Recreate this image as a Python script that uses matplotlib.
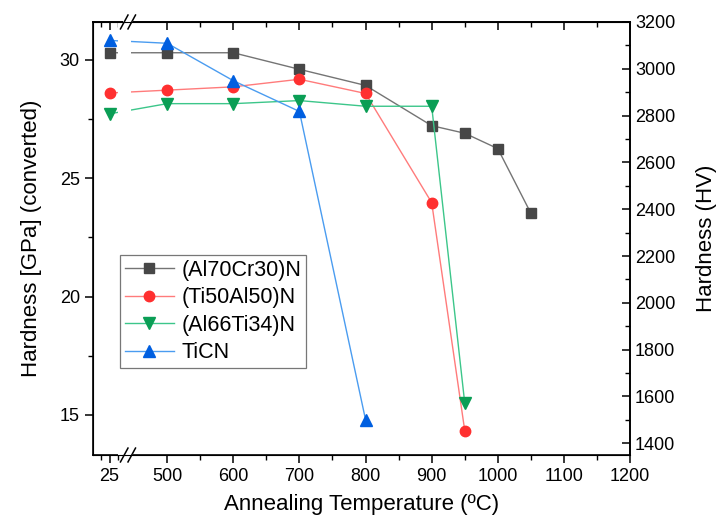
"""
Hardness vs annealing temperature for four coatings, broken x axis (25 / 500-1200 C).
"""

import matplotlib

matplotlib.use("Agg")
import matplotlib.pyplot as plt
import numpy as np
from matplotlib.ticker import MultipleLocator

plt.rcParams["font.family"] = ["Liberation Sans", "DejaVu Sans"]

# ---- data (hardness in GPa) ----
temp_alcr = [25, 500, 600, 700, 800, 900, 950, 1000, 1050]
hard_alcr = [30.3, 30.3, 30.3, 29.6, 28.92, 27.22, 26.9, 26.25, 23.52]

temp_tial = [25, 500, 600, 700, 800, 900, 950]
hard_tial = [28.6, 28.72, 28.86, 29.18, 28.58, 23.97, 14.34]

temp_alti = [25, 500, 600, 700, 800, 900, 950]
hard_alti = [27.72, 28.15, 28.15, 28.28, 28.04, 28.04, 15.5]

temp_ticn = [25, 500, 600, 700, 800]
hard_ticn = [30.82, 30.7, 29.12, 27.82, 14.8]

series_labels = ["(Al70Cr30)N", "(Ti50Al50)N", "(Al66Ti34)N", "TiCN"]
x_tick_values = [25, 500, 600, 700, 800, 900, 1000, 1100, 1200]

# left segment (0..~45 C) is shifted so that it sits just before the break
SHIFT = 388.0


def to_axis(t):
    t = np.asarray(t, dtype=float)
    return np.where(t < 300, t + SHIFT, t)


fig = plt.figure(figsize=(7.16, 5.23), dpi=100)
ax = fig.add_axes([0.130, 0.130, 0.750, 0.828])

styles = [
    dict(marker="s", mfc="#474747", mec="#474747", color="#747474", ms=7),
    dict(marker="o", mfc="#ff3030", mec="#ff3030", color="#ff7b7b", ms=7.5),
    dict(marker="v", mfc="#0a9e55", mec="#0a9e55", color="#3cc68a", ms=8),
    dict(marker="^", mfc="#005fe0", mec="#005fe0", color="#4a9cf0", ms=8),
]
all_series = [
    (temp_alcr, hard_alcr),
    (temp_tial, hard_tial),
    (temp_alti, hard_alti),
    (temp_ticn, hard_ticn),
]
for (tx, hy), lab, st in zip(all_series, series_labels, styles):
    ax.plot(to_axis(tx), hy, lw=1.0, label=lab, zorder=3, **st)

# gap in the connecting lines at the axis break
ax.axvspan(425, 445, color="white", zorder=3.5, lw=0)

ax.set_xlim(SHIFT, 1200)
ax.set_ylim(13.31, 31.6)

ax.set_xticks(to_axis(x_tick_values))
ax.set_xticklabels([str(v) for v in x_tick_values])
ax.set_xticks(list(to_axis([12.5, 37.5])) + list(range(550, 1200, 100)), minor=True)
ax.yaxis.set_major_locator(MultipleLocator(5))
ax.yaxis.set_minor_locator(MultipleLocator(2.5))

ax.tick_params(axis="x", which="both", direction="out", top=False, labelsize=13)
ax.tick_params(axis="x", which="major", length=6, width=1.1)
ax.tick_params(axis="x", which="minor", length=3.5, width=1.0)
ax.tick_params(axis="y", which="both", direction="out", right=False, labelsize=13)
ax.tick_params(axis="y", which="major", length=6, width=1.1)
ax.tick_params(axis="y", which="minor", length=3.5, width=1.0)

# top ticks pointing inward
top = ax.secondary_xaxis("top")
top.set_xticks(to_axis(x_tick_values))
top.set_xticks(list(to_axis([12.5, 37.5])) + list(range(550, 1200, 100)), minor=True)
top.tick_params(which="both", direction="in", labeltop=False)
top.tick_params(which="major", length=6, width=1.1)
top.tick_params(which="minor", length=3.5, width=1.0)
top.spines["top"].set_linewidth(1.2)

for s in ax.spines.values():
    s.set_linewidth(1.2)

# right axis in HV
ax2 = ax.twinx()
ax2.set_ylim(1350, 3200)
ax2.yaxis.set_major_locator(MultipleLocator(200))
ax2.yaxis.set_minor_locator(MultipleLocator(100))
ax2.tick_params(axis="y", which="both", direction="in", labelsize=13)
ax2.tick_params(axis="y", which="major", length=6, width=1.1)
ax2.tick_params(axis="y", which="minor", length=3.5, width=1.0)
ax2.spines["right"].set_linewidth(1.2)
ax2.set_ylabel("Hardness (HV)", fontsize=16, labelpad=15)

ax.set_xlabel("Annealing Temperature (ºC)", fontsize=16, labelpad=6)
ax.set_ylabel("Hardness [GPa] (converted)", fontsize=16, labelpad=13)

# break marks on bottom and top spines
for yb in (0.0, 1.0):
    ax.add_patch(plt.Rectangle((0.055, yb - 0.012), 0.02, 0.024,
                               transform=ax.transAxes, color="white",
                               zorder=5, clip_on=False, lw=0))
    for xb in (0.058, 0.072):
        ax.plot([xb - 0.007, xb + 0.007], [yb - 0.016, yb + 0.016],
                transform=ax.transAxes, color="black", lw=1.1,
                clip_on=False, zorder=6)

leg = ax.legend(loc="upper left", bbox_to_anchor=(0.05, 0.462), fontsize=15.5,
                frameon=True, fancybox=False, edgecolor="#555555",
                handlelength=2.3, borderpad=0.22, labelspacing=0.3,
                handletextpad=0.35, borderaxespad=0)
leg.get_frame().set_linewidth(0.9)
leg.set_zorder(10)

fig.savefig("out.png", dpi=100)
plt.close(fig)
